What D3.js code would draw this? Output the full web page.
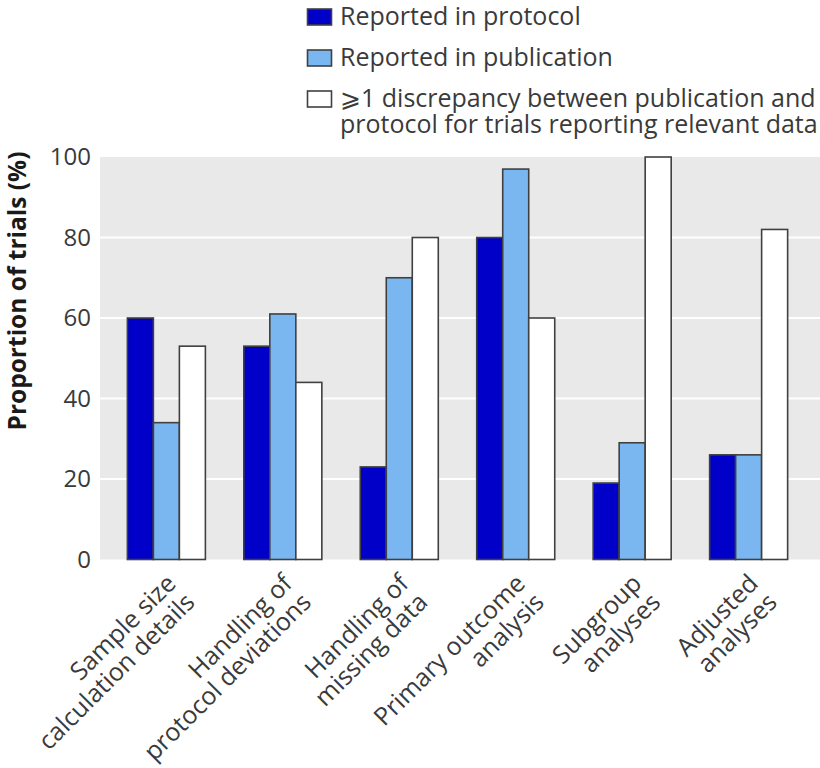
<!DOCTYPE html>
<html>
<head>
<meta charset="utf-8">
<script src="https://cdn.jsdelivr.net/npm/d3@7"></script>
<style>
  html, body { margin: 0; padding: 0; background: #fff; }
  svg { display: block; }
  text { font-family: "Open Sans", "Noto Sans", sans-serif; }
</style>
</head>
<body>
<svg id="chart" width="820" height="768"></svg>
<script>
const categories = [
  ["Sample size", "calculation details"],
  ["Handling of", "protocol deviations"],
  ["Handling of", "missing data"],
  ["Primary outcome", "analysis"],
  ["Subgroup", "analyses"],
  ["Adjusted", "analyses"]
];
const seriesNames = [
  "Reported in protocol",
  "Reported in publication",
  ["\u2A7E1 discrepancy between publication and", "protocol for trials reporting relevant data"]
];
const reportedProtocol    = [60, 53, 23, 80, 19, 26];
const reportedPublication = [34, 61, 70, 97, 29, 26];
const discrepancy         = [53, 44, 80, 60, 100, 82];
const yTicks = [0, 20, 40, 60, 80, 100];
const colors = ["#0000c8", "#7ab6f0", "#ffffff"];

const series = [reportedProtocol, reportedPublication, discrepancy];
const svg = d3.select("#chart");

const plotL = 100, plotR = 820, plotT = 157, plotB = 559.5;

const x = d3.scaleBand().domain(d3.range(categories.length))
  .range([plotL, 815]).paddingInner(0.33).paddingOuter(0.235);
const xs = d3.scaleBand().domain(d3.range(series.length))
  .range([0, x.bandwidth()]).padding(0);
const y = d3.scaleLinear().domain([0, 100]).range([plotB, plotT]);

// background
svg.append("rect").attr("x", plotL).attr("y", plotT)
  .attr("width", plotR - plotL).attr("height", plotB - plotT)
  .attr("fill", "#e9e9e9");

// gridlines
svg.append("g").selectAll("line").data(yTicks.filter(t => t > 0 && t < 100))
  .join("line")
  .attr("x1", plotL).attr("x2", plotR)
  .attr("y1", d => y(d)).attr("y2", d => y(d))
  .attr("stroke", "#ffffff").attr("stroke-width", 2);

// y axis
const yAxis = svg.append("g").attr("transform", `translate(${plotL},0)`)
  .call(d3.axisLeft(y).tickValues(yTicks).tickSize(0).tickPadding(9));
yAxis.select(".domain").remove();
yAxis.selectAll("text").attr("font-size", 24).attr("fill", "#3a3a3a")
  .attr("font-family", "Open Sans");

// y title
svg.append("text")
  .attr("transform", `translate(26,${(152+430)/2}) rotate(-90)`)
  .attr("text-anchor", "middle")
  .attr("font-size", 24.5).attr("font-weight", "bold").attr("fill", "#1a1a1a")
  .text("Proportion of trials (%)");

// bars
const groups = svg.append("g").selectAll("g").data(categories).join("g")
  .attr("transform", (d, i) => `translate(${x(i)},0)`);
groups.selectAll("rect")
  .data((d, i) => series.map((s, j) => ({ j, v: s[i] })))
  .join("rect")
  .attr("x", d => xs(d.j))
  .attr("width", xs.bandwidth())
  .attr("y", d => y(d.v))
  .attr("height", d => y(0) - y(d.v))
  .attr("fill", d => colors[d.j])
  .attr("stroke", "#404040").attr("stroke-width", 1.6);

// x labels
categories.forEach((lines, i) => {
  const cx = x(i) + x.bandwidth() / 2;
  const t = svg.append("text")
    .attr("transform", `translate(${cx + 11},${585}) rotate(-45)`)
    .attr("text-anchor", "end")
    .attr("font-size", 25).attr("fill", "#3a3a3a");
  lines.forEach((ln, k) => {
    t.append("tspan").attr("x", 0).attr("y", k * 26.5).text(ln);
  });
});

// legend
const legendY = [25, 66, 107];
seriesNames.forEach((name, j) => {
  svg.append("rect")
    .attr("x", 307.5).attr("y", legendY[j] - 16)
    .attr("width", 24).attr("height", 16)
    .attr("fill", colors[j]).attr("stroke", "#404040").attr("stroke-width", 1.6);
  const lines = Array.isArray(name) ? name : [name];
  lines.forEach((ln, k) => {
    svg.append("text").attr("font-size", 25).attr("fill", "#3a3a3a")
      .attr("x", 340).attr("y", legendY[j] + k * 26).text(ln);
  });
});
</script>
</body>
</html>
